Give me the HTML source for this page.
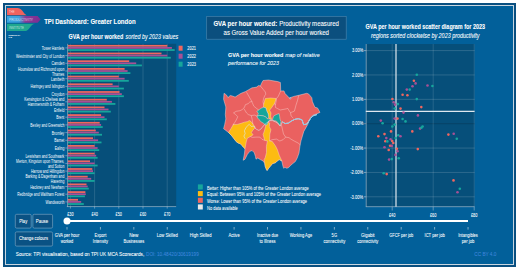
<!DOCTYPE html>
<html><head><meta charset="utf-8"><style>html,body{margin:0;padding:0;width:520px;height:275px;overflow:hidden;background:#fff}svg{display:block}text{font-family:"Liberation Sans",sans-serif}</style></head>
<body><svg width="520" height="275" viewBox="0 0 520 275" fill="#fff">
<rect x="0" y="0" width="520" height="275" fill="#fff"/>
<rect x="3" y="3" width="513" height="264" fill="#0a4f80"/>
<rect x="5.5" y="5.5" width="508" height="259" fill="#02609a" stroke="#c9d6e0" stroke-width="1"/>
<defs><linearGradient id="gp" gradientUnits="userSpaceOnUse" x1="7" x2="40.6" y1="0" y2="0"><stop offset="0" stop-color="#3aa6e0"/><stop offset="0.36" stop-color="#3d9fdc"/><stop offset="0.55" stop-color="#8a3a96"/><stop offset="1" stop-color="#7b2e92"/></linearGradient></defs>
<path d="M7,16 L37.6,16 L40.6,19.4 L37.6,22.8 L7,22.8 Z" fill="url(#gp)"/>
<path d="M7,8 L17.7,8 C20.5,8 22,10.3 23.6,12.4 C25,14.3 26.2,15.2 27.8,15.2 L7,15.2 Z" fill="#f0625e"/>
<path d="M7,23.8 L35.5,23.8 C33,23.8 31.6,25.4 29.8,27.8 C28.3,29.8 27.2,31 25.4,31 L7,31 Z" fill="#1fa88f"/>
<text x="9.10" y="13.10" font-size="4.2" fill-opacity="0.72" textLength="5.60" lengthAdjust="spacingAndGlyphs">THE</text>
<text x="9.10" y="21.10" font-size="4.2" fill-opacity="0.72" textLength="23.90" lengthAdjust="spacingAndGlyphs">PRODUCTIVITY</text>
<text x="9.10" y="29.10" font-size="4.2" fill-opacity="0.72" textLength="14.70" lengthAdjust="spacingAndGlyphs">INSTITUTE</text>
<text x="8.40" y="35.60" font-size="2.0" stroke="#fff" stroke-width="0.040" textLength="12.00" lengthAdjust="spacingAndGlyphs">PRODUCTIVITY</text>
<text x="8.40" y="38.20" font-size="2.0" stroke="#fff" stroke-width="0.040" textLength="3.60" lengthAdjust="spacingAndGlyphs">LAB</text>
<text x="44.20" y="23.80" font-size="7" stroke="#fff" stroke-width="0.084" font-weight="bold" textLength="91.40" lengthAdjust="spacingAndGlyphs">TPI Dashboard: Greater London</text>
<text x="68.50" y="38.80" font-size="6.3" stroke="#fff" stroke-width="0.076" font-weight="bold" textLength="54.90" lengthAdjust="spacingAndGlyphs">GVA per hour worked</text>
<text x="125.50" y="38.80" font-size="6.3" stroke="#fff" stroke-width="0.076" font-style="italic" textLength="52.60" lengthAdjust="spacingAndGlyphs">sorted by 2023 values</text>
<rect x="66.8" y="43.8" width="109.39999999999999" height="163.0" fill="#064f7a"/>
<line x1="70.40" y1="43.8" x2="70.40" y2="206.8" stroke="rgba(255,255,255,0.22)" stroke-width="0.6"/>
<line x1="94.60" y1="43.8" x2="94.60" y2="206.8" stroke="rgba(255,255,255,0.22)" stroke-width="0.6"/>
<line x1="118.80" y1="43.8" x2="118.80" y2="206.8" stroke="rgba(255,255,255,0.22)" stroke-width="0.6"/>
<line x1="143.00" y1="43.8" x2="143.00" y2="206.8" stroke="rgba(255,255,255,0.22)" stroke-width="0.6"/>
<line x1="167.20" y1="43.8" x2="167.20" y2="206.8" stroke="rgba(255,255,255,0.22)" stroke-width="0.6"/>
<rect x="67.9" y="44.90" width="99.40" height="1.78" fill="#f0665f"/>
<rect x="67.9" y="47.02" width="104.00" height="1.78" fill="#a85096"/>
<rect x="67.9" y="49.14" width="106.80" height="1.78" fill="#16a69c"/>
<line x1="65.3" y1="47.90" x2="67.6" y2="47.90" stroke="#b9cad8" stroke-width="0.5"/>
<text x="41.86" y="49.90" font-size="4.45" textLength="22.44" lengthAdjust="spacingAndGlyphs">Tower Hamlets</text>
<rect x="67.9" y="52.60" width="93.60" height="1.78" fill="#f0665f"/>
<rect x="67.9" y="54.72" width="99.40" height="1.78" fill="#a85096"/>
<rect x="67.9" y="56.84" width="102.90" height="1.78" fill="#16a69c"/>
<line x1="65.3" y1="55.60" x2="67.6" y2="55.60" stroke="#b9cad8" stroke-width="0.5"/>
<text x="16.09" y="57.60" font-size="4.45" textLength="48.21" lengthAdjust="spacingAndGlyphs">Westminster and City of London</text>
<rect x="67.9" y="60.30" width="61.30" height="1.78" fill="#f0665f"/>
<rect x="67.9" y="62.42" width="68.30" height="1.78" fill="#a85096"/>
<rect x="67.9" y="64.54" width="74.00" height="1.78" fill="#16a69c"/>
<line x1="65.3" y1="63.30" x2="67.6" y2="63.30" stroke="#b9cad8" stroke-width="0.5"/>
<text x="51.48" y="65.30" font-size="4.45" textLength="12.82" lengthAdjust="spacingAndGlyphs">Camden</text>
<rect x="67.9" y="68.00" width="56.70" height="1.78" fill="#f0665f"/>
<rect x="67.9" y="70.12" width="59.70" height="1.78" fill="#a85096"/>
<rect x="67.9" y="72.24" width="62.50" height="1.78" fill="#16a69c"/>
<line x1="65.3" y1="71.00" x2="67.6" y2="71.00" stroke="#b9cad8" stroke-width="0.5"/>
<text x="18.09" y="70.50" font-size="4.45" textLength="46.21" lengthAdjust="spacingAndGlyphs">Hounslow and Richmond upon</text>
<text x="52.04" y="75.55" font-size="4.45" textLength="12.26" lengthAdjust="spacingAndGlyphs">Thames</text>
<rect x="67.9" y="75.70" width="50.90" height="1.78" fill="#f0665f"/>
<rect x="67.9" y="77.82" width="56.70" height="1.78" fill="#a85096"/>
<rect x="67.9" y="79.94" width="60.90" height="1.78" fill="#16a69c"/>
<line x1="65.3" y1="78.70" x2="67.6" y2="78.70" stroke="#b9cad8" stroke-width="0.5"/>
<text x="51.10" y="80.70" font-size="4.45" textLength="13.20" lengthAdjust="spacingAndGlyphs">Lambeth</text>
<rect x="67.9" y="83.40" width="44.70" height="1.78" fill="#f0665f"/>
<rect x="67.9" y="85.52" width="50.90" height="1.78" fill="#a85096"/>
<rect x="67.9" y="87.64" width="56.00" height="1.78" fill="#16a69c"/>
<line x1="65.3" y1="86.40" x2="67.6" y2="86.40" stroke="#b9cad8" stroke-width="0.5"/>
<text x="30.55" y="88.40" font-size="4.45" textLength="33.75" lengthAdjust="spacingAndGlyphs">Haringey and Islington</text>
<rect x="67.9" y="91.10" width="51.60" height="1.78" fill="#f0665f"/>
<rect x="67.9" y="93.22" width="53.90" height="1.78" fill="#a85096"/>
<rect x="67.9" y="95.34" width="56.00" height="1.78" fill="#16a69c"/>
<line x1="65.3" y1="94.10" x2="67.6" y2="94.10" stroke="#b9cad8" stroke-width="0.5"/>
<text x="51.48" y="96.10" font-size="4.45" textLength="12.82" lengthAdjust="spacingAndGlyphs">Croydon</text>
<rect x="67.9" y="98.80" width="38.90" height="1.78" fill="#f0665f"/>
<rect x="67.9" y="100.92" width="44.00" height="1.78" fill="#a85096"/>
<rect x="67.9" y="103.04" width="47.50" height="1.78" fill="#16a69c"/>
<line x1="65.3" y1="101.80" x2="67.6" y2="101.80" stroke="#b9cad8" stroke-width="0.5"/>
<text x="24.13" y="101.30" font-size="4.45" textLength="40.17" lengthAdjust="spacingAndGlyphs">Kensington &amp; Chelsea and</text>
<text x="27.74" y="106.35" font-size="4.45" textLength="36.56" lengthAdjust="spacingAndGlyphs">Hammersmith &amp; Fulham</text>
<rect x="67.9" y="106.50" width="36.60" height="1.78" fill="#f0665f"/>
<rect x="67.9" y="108.62" width="40.60" height="1.78" fill="#a85096"/>
<rect x="67.9" y="110.74" width="42.90" height="1.78" fill="#16a69c"/>
<line x1="65.3" y1="109.50" x2="67.6" y2="109.50" stroke="#b9cad8" stroke-width="0.5"/>
<text x="53.92" y="111.50" font-size="4.45" textLength="10.38" lengthAdjust="spacingAndGlyphs">Enfield</text>
<rect x="67.9" y="114.20" width="33.20" height="1.78" fill="#f0665f"/>
<rect x="67.9" y="116.32" width="36.60" height="1.78" fill="#a85096"/>
<rect x="67.9" y="118.44" width="38.90" height="1.78" fill="#16a69c"/>
<line x1="65.3" y1="117.20" x2="67.6" y2="117.20" stroke="#b9cad8" stroke-width="0.5"/>
<text x="56.19" y="119.20" font-size="4.45" textLength="8.11" lengthAdjust="spacingAndGlyphs">Brent</text>
<rect x="67.9" y="121.90" width="31.80" height="1.78" fill="#f0665f"/>
<rect x="67.9" y="124.02" width="33.20" height="1.78" fill="#a85096"/>
<rect x="67.9" y="126.14" width="34.80" height="1.78" fill="#16a69c"/>
<line x1="65.3" y1="124.90" x2="67.6" y2="124.90" stroke="#b9cad8" stroke-width="0.5"/>
<text x="30.36" y="126.90" font-size="4.45" textLength="33.94" lengthAdjust="spacingAndGlyphs">Bexley and Greenwich</text>
<rect x="67.9" y="129.60" width="27.90" height="1.78" fill="#f0665f"/>
<rect x="67.9" y="131.72" width="30.90" height="1.78" fill="#a85096"/>
<rect x="67.9" y="133.84" width="34.10" height="1.78" fill="#16a69c"/>
<line x1="65.3" y1="132.60" x2="67.6" y2="132.60" stroke="#b9cad8" stroke-width="0.5"/>
<text x="51.86" y="134.60" font-size="4.45" textLength="12.44" lengthAdjust="spacingAndGlyphs">Bromley</text>
<rect x="67.9" y="137.30" width="25.10" height="1.78" fill="#f0665f"/>
<rect x="67.9" y="139.42" width="30.20" height="1.78" fill="#a85096"/>
<rect x="67.9" y="141.54" width="33.60" height="1.78" fill="#16a69c"/>
<line x1="65.3" y1="140.30" x2="67.6" y2="140.30" stroke="#b9cad8" stroke-width="0.5"/>
<text x="54.30" y="142.30" font-size="4.45" textLength="10.00" lengthAdjust="spacingAndGlyphs">Barnet</text>
<rect x="67.9" y="145.00" width="26.70" height="1.78" fill="#f0665f"/>
<rect x="67.9" y="147.12" width="29.70" height="1.78" fill="#a85096"/>
<rect x="67.9" y="149.24" width="31.30" height="1.78" fill="#16a69c"/>
<line x1="65.3" y1="148.00" x2="67.6" y2="148.00" stroke="#b9cad8" stroke-width="0.5"/>
<text x="54.87" y="150.00" font-size="4.45" textLength="9.43" lengthAdjust="spacingAndGlyphs">Ealing</text>
<rect x="67.9" y="152.70" width="26.70" height="1.78" fill="#f0665f"/>
<rect x="67.9" y="154.82" width="28.30" height="1.78" fill="#a85096"/>
<rect x="67.9" y="156.94" width="29.70" height="1.78" fill="#16a69c"/>
<line x1="65.3" y1="155.70" x2="67.6" y2="155.70" stroke="#b9cad8" stroke-width="0.5"/>
<text x="25.46" y="157.70" font-size="4.45" textLength="38.84" lengthAdjust="spacingAndGlyphs">Lewisham and Southwark</text>
<rect x="67.9" y="160.40" width="22.10" height="1.78" fill="#f0665f"/>
<rect x="67.9" y="162.52" width="26.70" height="1.78" fill="#a85096"/>
<rect x="67.9" y="164.64" width="29.70" height="1.78" fill="#16a69c"/>
<line x1="65.3" y1="163.40" x2="67.6" y2="163.40" stroke="#b9cad8" stroke-width="0.5"/>
<text x="16.09" y="162.90" font-size="4.45" textLength="48.21" lengthAdjust="spacingAndGlyphs">Merton, Kingston upon Thames,</text>
<text x="47.88" y="167.95" font-size="4.45" textLength="16.42" lengthAdjust="spacingAndGlyphs">and Sutton</text>
<rect x="67.9" y="168.10" width="24.40" height="1.78" fill="#f0665f"/>
<rect x="67.9" y="170.22" width="25.10" height="1.78" fill="#a85096"/>
<rect x="67.9" y="172.34" width="26.70" height="1.78" fill="#16a69c"/>
<line x1="65.3" y1="171.10" x2="67.6" y2="171.10" stroke="#b9cad8" stroke-width="0.5"/>
<text x="30.93" y="173.10" font-size="4.45" textLength="33.37" lengthAdjust="spacingAndGlyphs">Harrow and Hillingdon</text>
<rect x="67.9" y="175.80" width="19.80" height="1.78" fill="#f0665f"/>
<rect x="67.9" y="177.92" width="23.30" height="1.78" fill="#a85096"/>
<rect x="67.9" y="180.04" width="26.70" height="1.78" fill="#16a69c"/>
<line x1="65.3" y1="178.80" x2="67.6" y2="178.80" stroke="#b9cad8" stroke-width="0.5"/>
<text x="25.45" y="178.30" font-size="4.45" textLength="38.85" lengthAdjust="spacingAndGlyphs">Barking &amp; Dagenham and</text>
<text x="50.72" y="183.35" font-size="4.45" textLength="13.58" lengthAdjust="spacingAndGlyphs">Havering</text>
<rect x="67.9" y="183.50" width="18.60" height="1.78" fill="#f0665f"/>
<rect x="67.9" y="185.62" width="19.80" height="1.78" fill="#a85096"/>
<rect x="67.9" y="187.74" width="20.90" height="1.78" fill="#16a69c"/>
<line x1="65.3" y1="186.50" x2="67.6" y2="186.50" stroke="#b9cad8" stroke-width="0.5"/>
<text x="30.17" y="188.50" font-size="4.45" textLength="34.13" lengthAdjust="spacingAndGlyphs">Hackney and Newham</text>
<rect x="67.9" y="191.20" width="17.50" height="1.78" fill="#f0665f"/>
<rect x="67.9" y="193.32" width="17.90" height="1.78" fill="#a85096"/>
<rect x="67.9" y="195.44" width="17.00" height="1.78" fill="#16a69c"/>
<line x1="65.3" y1="194.20" x2="67.6" y2="194.20" stroke="#b9cad8" stroke-width="0.5"/>
<text x="17.28" y="196.20" font-size="4.45" textLength="47.02" lengthAdjust="spacingAndGlyphs">Redbridge and Waltham Forest</text>
<rect x="67.9" y="198.90" width="10.10" height="1.78" fill="#f0665f"/>
<rect x="67.9" y="201.02" width="13.30" height="1.78" fill="#a85096"/>
<rect x="67.9" y="203.14" width="15.90" height="1.78" fill="#16a69c"/>
<line x1="65.3" y1="201.90" x2="67.6" y2="201.90" stroke="#b9cad8" stroke-width="0.5"/>
<text x="45.57" y="203.90" font-size="4.45" textLength="18.73" lengthAdjust="spacingAndGlyphs">Wandsworth</text>
<line x1="67.6" y1="43.8" x2="67.6" y2="206.8" stroke="#b9cad8" stroke-width="0.6"/>
<line x1="66.8" y1="206.6" x2="176.2" y2="206.6" stroke="#b9cad8" stroke-width="0.6"/>
<line x1="70.40" y1="206.6" x2="70.40" y2="208.6" stroke="#b9cad8" stroke-width="0.5"/>
<text x="67.20" y="215.50" font-size="4.8" stroke="#fff" stroke-width="0.058" textLength="6.40" lengthAdjust="spacingAndGlyphs">£30</text>
<line x1="94.60" y1="206.6" x2="94.60" y2="208.6" stroke="#b9cad8" stroke-width="0.5"/>
<text x="91.40" y="215.50" font-size="4.8" stroke="#fff" stroke-width="0.058" textLength="6.40" lengthAdjust="spacingAndGlyphs">£40</text>
<line x1="118.80" y1="206.6" x2="118.80" y2="208.6" stroke="#b9cad8" stroke-width="0.5"/>
<text x="115.60" y="215.50" font-size="4.8" stroke="#fff" stroke-width="0.058" textLength="6.40" lengthAdjust="spacingAndGlyphs">£50</text>
<line x1="143.00" y1="206.6" x2="143.00" y2="208.6" stroke="#b9cad8" stroke-width="0.5"/>
<text x="139.80" y="215.50" font-size="4.8" stroke="#fff" stroke-width="0.058" textLength="6.40" lengthAdjust="spacingAndGlyphs">£60</text>
<line x1="167.20" y1="206.6" x2="167.20" y2="208.6" stroke="#b9cad8" stroke-width="0.5"/>
<text x="164.00" y="215.50" font-size="4.8" stroke="#fff" stroke-width="0.058" textLength="6.40" lengthAdjust="spacingAndGlyphs">£70</text>
<rect x="178.6" y="45.7" width="4" height="5" fill="#f0665f"/>
<text x="187.30" y="49.90" font-size="4.8" stroke="#fff" stroke-width="0.058" textLength="8.70" lengthAdjust="spacingAndGlyphs">2021</text>
<rect x="178.6" y="53.7" width="4" height="5" fill="#a85096"/>
<text x="187.30" y="57.90" font-size="4.8" stroke="#fff" stroke-width="0.058" textLength="8.70" lengthAdjust="spacingAndGlyphs">2022</text>
<rect x="178.6" y="61.7" width="4" height="5" fill="#16a69c"/>
<text x="187.30" y="65.90" font-size="4.8" stroke="#fff" stroke-width="0.058" textLength="8.70" lengthAdjust="spacingAndGlyphs">2023</text>
<rect x="206.7" y="16.6" width="139.5" height="22.6" fill="#0b4f7e" stroke="#4a83ab" stroke-width="0.65"/>
<text x="213.40" y="25.90" font-size="6.5" stroke="#fff" stroke-width="0.078" font-weight="bold" textLength="63.80" lengthAdjust="spacingAndGlyphs">GVA per hour worked:</text>
<text x="279.20" y="25.90" font-size="6.5" stroke="#fff" stroke-width="0.078" textLength="59.80" lengthAdjust="spacingAndGlyphs">Productivity measured</text>
<text x="223.50" y="34.70" font-size="6.5" stroke="#fff" stroke-width="0.078" textLength="105.50" lengthAdjust="spacingAndGlyphs">as Gross Value Added per hour worked</text>
<text x="228.00" y="57.00" font-size="6.2" stroke="#fff" stroke-width="0.074" font-weight="bold" textLength="55.40" lengthAdjust="spacingAndGlyphs">GVA per hour worked</text>
<text x="285.20" y="57.00" font-size="6.2" stroke="#fff" stroke-width="0.074" font-style="italic" textLength="34.40" lengthAdjust="spacingAndGlyphs">map of relative</text>
<text x="228.00" y="65.00" font-size="6.2" stroke="#fff" stroke-width="0.074" font-style="italic" textLength="51.00" lengthAdjust="spacingAndGlyphs">performance for 2023</text>
<polygon points="224.0,93.3 226.4,94.9 228.0,97.6 230.2,95.5 232.4,96.0 235.1,97.1 238.4,94.9 241.1,93.3 245.4,91.6 248.2,90.0 252.0,87.8 253.8,87.6 256.5,87.1 258.7,85.5 260.4,86.0 261.5,83.3 263.1,80.5 268.5,80.0 277.8,81.6 280.4,82.5 280.7,90.9 284.0,90.9 285.1,93.6 289.4,98.0 293.8,96.4 298.7,95.3 306.7,93.3 308.6,93.9 311.8,97.7 312.4,101.6 314.9,107.3 317.5,107.9 320.0,112.4 315.6,114.3 313.1,115.2 310.6,117.1 307.6,124.7 303.8,131.4 301.0,140.8 300.0,145.6 299.0,153.0 297.2,158.0 295.3,161.6 292.5,163.8 290.6,165.4 288.6,167.6 286.8,168.3 284.9,167.3 283.7,168.3 283.0,166.4 281.8,160.9 279.2,159.6 277.3,160.9 275.4,162.8 272.8,163.5 270.9,165.4 268.4,168.6 267.1,170.5 266.5,169.7 265.3,166.7 264.7,163.3 263.0,160.9 260.7,159.8 257.8,158.0 256.0,159.2 255.4,156.3 254.3,152.8 252.0,150.5 249.6,151.6 247.3,154.5 245.0,159.2 243.2,160.3 244.4,154.0 245.0,148.7 243.2,147.0 240.9,144.1 238.0,142.9 236.1,141.5 233.5,138.0 231.3,135.3 228.5,132.5 225.8,130.4 223.6,128.7 224.7,124.4 225.8,118.9 225.3,114.5 225.8,108.0 225.8,106.9 224.7,103.1 223.6,99.3" fill="#ea6160" stroke="#fbe0dc" stroke-width="0.45" stroke-linejoin="round"/>
<polygon points="232.9,124.4 237.3,124.4 241.1,123.3 244.4,122.2 247.6,121.6 249.3,120.5 251.0,121.5 253.1,124.3 255.3,127.3 252.7,130.4 251.3,132.6 253.1,134.8 250.5,136.5 247.3,138.2 246.2,142.0 245.0,148.7 243.2,147.0 240.9,144.1 238.0,142.9 236.1,141.5 233.5,138.0 231.3,135.3 228.5,132.5 231.1,128.4 233.3,124.6" fill="#fdbb12" stroke="#fbe0dc" stroke-width="0.4" stroke-linejoin="round"/>
<polygon points="266.6,122.2 269.7,122.9 269.3,126.5 270.9,129.8 269.8,134.2 269.6,141.0 272.3,141.5 275.5,146.0 277.4,149.8 279.2,155.2 281.8,160.9 279.2,159.6 277.3,160.9 275.4,162.8 272.8,163.5 270.9,165.4 268.4,168.6 267.1,170.5 266.5,169.7 265.3,166.7 264.7,163.3 264.2,159.5 265.2,157.7 266.5,152.6 266.4,146.4 267.4,140.9 264.7,140.4 263.1,134.4 264.4,130.9 265.5,126.5" fill="#fdbb12" stroke="#fbe0dc" stroke-width="0.4" stroke-linejoin="round"/>
<polygon points="265.3,98.5 270.7,98.0 276.2,98.5 274.5,103.4 271.5,107.8 269.6,110.2 271.0,113.0 270.6,116.3 271.5,119.2 270.1,119.2 268.7,117.3 268.2,113.9 266.8,111.1 265.8,107.8 263.5,107.3 263.6,104.5" fill="#fdbb12" stroke="#fbe0dc" stroke-width="0.4" stroke-linejoin="round"/>
<polygon points="256.8,111.1 257.8,110.6 261.1,108.3 263.5,107.3 265.8,107.8 266.8,111.1 268.2,113.9 268.7,117.3 267.3,118.7 265.4,116.8 263.0,115.8 259.7,115.4 257.3,116.3 258.3,113.5" fill="#16a69c" stroke="#fbe0dc" stroke-width="0.4" stroke-linejoin="round"/>
<polygon points="256.8,116.3 259.7,115.4 263.0,115.8 265.4,116.8 267.3,118.7 270.1,119.2 271.5,119.6 269.2,120.6 268.2,121.5 267.3,124.8 265.4,124.8 263.0,122.9 260.6,121.5 259.2,119.6 257.8,118.2" fill="#16a69c" stroke="#fbe0dc" stroke-width="0.4" stroke-linejoin="round"/>
<polygon points="272.5,120.1 272.9,118.2 273.9,115.8 276.7,114.4 279.1,113.5 279.6,116.3 280.0,119.2 281.0,121.5 280.5,123.9 279.6,125.8 278.1,123.0 276.3,121.0 273.9,120.6" fill="#16a69c" stroke="#fbe0dc" stroke-width="0.4" stroke-linejoin="round"/>
<polyline points="246.5,92.2 248.7,96.0 250.9,99.8 252.0,101.5" fill="none" stroke="#fbe0dc" stroke-width="0.4" stroke-linejoin="round"/>
<polyline points="252.0,101.5 249.8,102.0 248.2,103.6 245.4,104.7 244.4,107.4 243.8,108.0 242.2,109.6 240.0,110.7 236.2,111.3 233.5,112.9 235.6,114.5 237.8,116.7 236.2,120.0 234.0,123.8 232.9,124.4" fill="none" stroke="#fbe0dc" stroke-width="0.4" stroke-linejoin="round"/>
<polyline points="243.8,108.5 246.5,112.9 248.2,114.5 251.3,115.6 254.5,115.1 257.3,116.2" fill="none" stroke="#fbe0dc" stroke-width="0.4" stroke-linejoin="round"/>
<polyline points="252.0,101.5 252.2,102.4 253.8,106.2 256.5,108.4 258.7,110.0" fill="none" stroke="#fbe0dc" stroke-width="0.4" stroke-linejoin="round"/>
<polyline points="260.4,86.0 263.1,89.3 265.3,92.0 265.8,94.2 264.7,95.8 263.6,98.5 263.0,101.8 263.6,104.5" fill="none" stroke="#fbe0dc" stroke-width="0.4" stroke-linejoin="round"/>
<polyline points="280.7,90.9 278.0,96.9 276.2,98.5 276.4,100.2 275.3,105.1 275.5,107.5 280.2,110.0 286.2,108.9 287.8,108.4 289.4,111.1 290.5,112.7 291.1,116.0 293.3,118.2" fill="none" stroke="#fbe0dc" stroke-width="0.4" stroke-linejoin="round"/>
<polyline points="298.7,95.3 297.6,100.2 296.0,105.1 294.4,111.1 290.5,112.7" fill="none" stroke="#fbe0dc" stroke-width="0.4" stroke-linejoin="round"/>
<polyline points="275.3,105.1 274.5,103.4" fill="none" stroke="#fbe0dc" stroke-width="0.4" stroke-linejoin="round"/>
<polyline points="281.5,125.3 282.4,129.1 283.5,134.0 285.7,137.1" fill="none" stroke="#fbe0dc" stroke-width="0.4" stroke-linejoin="round"/>
<polyline points="269.6,141.0 272.0,139.7 276.5,139.1 279.8,141.0 283.1,139.7 285.7,137.1 289.0,137.7 290.9,139.1 294.2,141.0 298.1,143.0 300.5,145.0" fill="none" stroke="#fbe0dc" stroke-width="0.4" stroke-linejoin="round"/>
<polyline points="250.5,136.5 252.2,137.4 256.0,137.1 259.8,137.1 262.0,139.3 264.7,140.4" fill="none" stroke="#fbe0dc" stroke-width="0.4" stroke-linejoin="round"/>
<polyline points="251.3,115.6 252.2,119.5 252.7,123.0 253.1,124.3" fill="none" stroke="#fbe0dc" stroke-width="0.4" stroke-linejoin="round"/>
<polyline points="245.2,138.7 243.9,136.1 245.2,133.5 244.4,130.8 246.1,127.3 249.2,124.3 251.3,126.5 254.0,126.0 254.8,127.8 256.1,129.1 258.8,130.4 260.9,129.1 262.3,127.3 264.4,124.7 266.6,123.2 268.2,121.5 270.5,120.6 272.5,120.6 275.8,122.0 279.1,124.4 280.5,126.1 282.4,121.8 285.1,123.6 288.4,123.1 291.6,120.9 294.9,119.3 298.2,118.7 302.0,119.8 303.6,124.7 306.8,124.1 310.6,118.4 313.1,115.8 317.0,114.5" fill="none" stroke="#d9ebf4" stroke-width="0.6" stroke-linejoin="round"/>
<polyline points="282.4,121.8 285.1,123.6 288.4,123.1 291.6,120.9 294.9,119.3 298.2,118.7 302.0,119.8 303.6,124.7 306.8,124.1 310.6,118.4 313.1,115.8 317.0,114.5" fill="none" stroke="#d9ebf4" stroke-width="1.0" stroke-linejoin="round"/>
<polyline points="282.4,121.8 285.1,123.6 288.4,123.1 291.6,120.9 294.9,119.3 298.2,118.7 302.0,119.8 303.6,124.7 306.8,124.1 310.6,118.4 313.1,115.8 317.0,114.5" fill="none" stroke="#3d9fd0" stroke-width="0.45" stroke-linejoin="round"/>
<circle cx="290.3" cy="98.3" r="0.75" fill="#3a9ad0" stroke="#fbe0dc" stroke-width="0.4"/>
<rect x="197.9" y="184.40" width="4.9" height="5.1" fill="#16a69c"/>
<text x="207.00" y="189.60" font-size="4.9" stroke="#fff" stroke-width="0.049" textLength="101.70" lengthAdjust="spacingAndGlyphs">Better: Higher than 105% of the Greater London average</text>
<rect x="197.9" y="191.07" width="4.9" height="5.1" fill="#fdbb12"/>
<text x="207.00" y="196.27" font-size="4.9" stroke="#fff" stroke-width="0.049" textLength="114.00" lengthAdjust="spacingAndGlyphs">Equal: Between 95% and 105% of the Greater London average</text>
<rect x="197.9" y="197.74" width="4.9" height="5.1" fill="#f0665f"/>
<text x="207.00" y="202.94" font-size="4.9" stroke="#fff" stroke-width="0.049" textLength="100.00" lengthAdjust="spacingAndGlyphs">Worse: Lower than 95% of the Greater London average</text>
<rect x="197.9" y="204.41" width="4.9" height="5.1" fill="#e9e9e9"/>
<text x="207.00" y="209.61" font-size="4.9" stroke="#fff" stroke-width="0.049" textLength="30.80" lengthAdjust="spacingAndGlyphs">No data available</text>
<rect x="365.8" y="44.0" width="108.80000000000001" height="162.8" fill="#064f7a"/>
<line x1="364" y1="50.59" x2="474.6" y2="50.59" stroke="rgba(255,255,255,0.22)" stroke-width="0.7"/>
<line x1="364" y1="50.59" x2="366.2" y2="50.59" stroke="#b9cad8" stroke-width="0.5"/>
<text x="352.00" y="52.34" font-size="4.8" stroke="#fff" stroke-width="0.058" textLength="11.20" lengthAdjust="spacingAndGlyphs">3.00%</text>
<line x1="364" y1="74.96" x2="474.6" y2="74.96" stroke="rgba(255,255,255,0.22)" stroke-width="0.7"/>
<line x1="364" y1="74.96" x2="366.2" y2="74.96" stroke="#b9cad8" stroke-width="0.5"/>
<text x="352.00" y="76.71" font-size="4.8" stroke="#fff" stroke-width="0.058" textLength="11.20" lengthAdjust="spacingAndGlyphs">2.00%</text>
<line x1="364" y1="99.33" x2="474.6" y2="99.33" stroke="rgba(255,255,255,0.22)" stroke-width="0.7"/>
<line x1="364" y1="99.33" x2="366.2" y2="99.33" stroke="#b9cad8" stroke-width="0.5"/>
<text x="352.00" y="101.08" font-size="4.8" stroke="#fff" stroke-width="0.058" textLength="11.20" lengthAdjust="spacingAndGlyphs">1.00%</text>
<line x1="364" y1="123.70" x2="474.6" y2="123.70" stroke="#073e5e" stroke-width="0.7"/>
<line x1="364" y1="123.70" x2="366.2" y2="123.70" stroke="#b9cad8" stroke-width="0.5"/>
<text x="352.00" y="125.45" font-size="4.8" stroke="#fff" stroke-width="0.058" textLength="11.20" lengthAdjust="spacingAndGlyphs">0.00%</text>
<line x1="364" y1="148.07" x2="474.6" y2="148.07" stroke="rgba(255,255,255,0.22)" stroke-width="0.7"/>
<line x1="364" y1="148.07" x2="366.2" y2="148.07" stroke="#b9cad8" stroke-width="0.5"/>
<text x="350.20" y="149.82" font-size="4.8" stroke="#fff" stroke-width="0.058" textLength="13.00" lengthAdjust="spacingAndGlyphs">-1.00%</text>
<line x1="364" y1="172.44" x2="474.6" y2="172.44" stroke="rgba(255,255,255,0.22)" stroke-width="0.7"/>
<line x1="364" y1="172.44" x2="366.2" y2="172.44" stroke="#b9cad8" stroke-width="0.5"/>
<text x="350.20" y="174.19" font-size="4.8" stroke="#fff" stroke-width="0.058" textLength="13.00" lengthAdjust="spacingAndGlyphs">-2.00%</text>
<line x1="364" y1="196.81" x2="474.6" y2="196.81" stroke="rgba(255,255,255,0.22)" stroke-width="0.7"/>
<line x1="364" y1="196.81" x2="366.2" y2="196.81" stroke="#b9cad8" stroke-width="0.5"/>
<text x="350.20" y="198.56" font-size="4.8" stroke="#fff" stroke-width="0.058" textLength="13.00" lengthAdjust="spacingAndGlyphs">-3.00%</text>
<line x1="392.20" y1="44.0" x2="392.20" y2="206.8" stroke="rgba(255,255,255,0.22)" stroke-width="0.6"/>
<line x1="392.20" y1="206.8" x2="392.20" y2="210.5" stroke="#b9cad8" stroke-width="0.5"/>
<text x="388.90" y="216.60" font-size="4.8" stroke="#fff" stroke-width="0.058" textLength="6.60" lengthAdjust="spacingAndGlyphs">£40</text>
<line x1="433.20" y1="44.0" x2="433.20" y2="206.8" stroke="rgba(255,255,255,0.22)" stroke-width="0.6"/>
<line x1="433.20" y1="206.8" x2="433.20" y2="210.5" stroke="#b9cad8" stroke-width="0.5"/>
<text x="429.90" y="216.60" font-size="4.8" stroke="#fff" stroke-width="0.058" textLength="6.60" lengthAdjust="spacingAndGlyphs">£60</text>
<line x1="474.20" y1="44.0" x2="474.20" y2="206.8" stroke="rgba(255,255,255,0.22)" stroke-width="0.6"/>
<line x1="474.20" y1="206.8" x2="474.20" y2="210.5" stroke="#b9cad8" stroke-width="0.5"/>
<text x="470.90" y="216.60" font-size="4.8" stroke="#fff" stroke-width="0.058" textLength="6.60" lengthAdjust="spacingAndGlyphs">£80</text>
<line x1="366.2" y1="44.0" x2="366.2" y2="206.8" stroke="#b9cad8" stroke-width="0.6"/>
<line x1="365.8" y1="206.7" x2="474.6" y2="206.7" stroke="#b9cad8" stroke-width="0.6"/>
<line x1="396" y1="44.0" x2="396" y2="206.8" stroke="#dfe8ef" stroke-width="1.2"/>
<line x1="365.8" y1="111.3" x2="474.6" y2="111.3" stroke="#dfe8ef" stroke-width="1.2"/>
<circle cx="416.8" cy="74.8" r="1.3" fill="#16a69c"/>
<circle cx="413.9" cy="80.7" r="1.3" fill="#f0665f"/>
<circle cx="415.6" cy="83.4" r="1.3" fill="#a85096"/>
<circle cx="412.5" cy="86.2" r="1.3" fill="#a85096"/>
<circle cx="409.7" cy="89.6" r="1.3" fill="#16a69c"/>
<circle cx="406.8" cy="89.6" r="1.3" fill="#a85096"/>
<circle cx="402.6" cy="94.8" r="1.3" fill="#f0665f"/>
<circle cx="407.4" cy="95.2" r="1.3" fill="#f0665f"/>
<circle cx="416.8" cy="99.1" r="1.3" fill="#16a69c"/>
<circle cx="392.4" cy="99.0" r="1.3" fill="#f0665f"/>
<circle cx="393.7" cy="102.3" r="1.3" fill="#a85096"/>
<circle cx="395.0" cy="104.6" r="1.3" fill="#a85096"/>
<circle cx="397.9" cy="104.1" r="1.3" fill="#16a69c"/>
<circle cx="394.6" cy="108.5" r="1.3" fill="#16a69c"/>
<circle cx="400.5" cy="108.6" r="1.3" fill="#f0665f"/>
<circle cx="421.3" cy="107.1" r="1.3" fill="#f0665f"/>
<circle cx="403.5" cy="112.6" r="1.3" fill="#a85096"/>
<circle cx="427.5" cy="85.5" r="1.3" fill="#a85096"/>
<circle cx="432.4" cy="86.0" r="1.3" fill="#16a69c"/>
<circle cx="417.9" cy="115.4" r="1.3" fill="#a85096"/>
<circle cx="394.6" cy="118.6" r="1.3" fill="#a85096"/>
<circle cx="397.5" cy="118.6" r="1.3" fill="#f0665f"/>
<circle cx="402.6" cy="119.0" r="1.3" fill="#16a69c"/>
<circle cx="405.5" cy="121.4" r="1.3" fill="#16a69c"/>
<circle cx="380.8" cy="120.6" r="1.3" fill="#a85096"/>
<circle cx="382.6" cy="123.2" r="1.3" fill="#16a69c"/>
<circle cx="392.3" cy="126.5" r="1.3" fill="#16a69c"/>
<circle cx="394.6" cy="124.6" r="1.3" fill="#16a69c"/>
<circle cx="420.1" cy="128.6" r="1.3" fill="#a85096"/>
<circle cx="422.6" cy="126.5" r="1.3" fill="#16a69c"/>
<circle cx="421.4" cy="127.7" r="1.3" fill="#16a69c"/>
<circle cx="412.3" cy="131.4" r="1.3" fill="#f0665f"/>
<circle cx="391.0" cy="131.4" r="1.3" fill="#f0665f"/>
<circle cx="378.3" cy="136.3" r="1.3" fill="#f0665f"/>
<circle cx="384.5" cy="134.1" r="1.3" fill="#f0665f"/>
<circle cx="398.3" cy="135.2" r="1.3" fill="#16a69c"/>
<circle cx="400.5" cy="136.3" r="1.3" fill="#a85096"/>
<circle cx="386.3" cy="138.1" r="1.3" fill="#a85096"/>
<circle cx="395.7" cy="138.1" r="1.3" fill="#16a69c"/>
<circle cx="390.6" cy="139.2" r="1.3" fill="#a85096"/>
<circle cx="385.3" cy="141.2" r="1.3" fill="#f0665f"/>
<circle cx="387.4" cy="141.4" r="1.3" fill="#16a69c"/>
<circle cx="392.2" cy="141.0" r="1.3" fill="#f0665f"/>
<circle cx="393.3" cy="143.0" r="1.3" fill="#f0665f"/>
<circle cx="384.5" cy="147.3" r="1.3" fill="#a85096"/>
<circle cx="390.1" cy="145.8" r="1.3" fill="#f0665f"/>
<circle cx="391.8" cy="145.9" r="1.3" fill="#a85096"/>
<circle cx="388.7" cy="150.0" r="1.3" fill="#f0665f"/>
<circle cx="396.9" cy="148.7" r="1.3" fill="#f0665f"/>
<circle cx="397.6" cy="151.3" r="1.3" fill="#a85096"/>
<circle cx="417.8" cy="149.1" r="1.3" fill="#f0665f"/>
<circle cx="395.5" cy="154.9" r="1.3" fill="#a85096"/>
<circle cx="389.1" cy="159.6" r="1.3" fill="#a85096"/>
<circle cx="391.8" cy="159.1" r="1.3" fill="#16a69c"/>
<circle cx="398.7" cy="158.2" r="1.3" fill="#16a69c"/>
<circle cx="383.7" cy="173.3" r="1.3" fill="#16a69c"/>
<circle cx="386.7" cy="174.1" r="1.3" fill="#f0665f"/>
<circle cx="448.4" cy="134.6" r="1.3" fill="#f0665f"/>
<circle cx="453.7" cy="133.8" r="1.3" fill="#a85096"/>
<circle cx="456.8" cy="138.7" r="1.3" fill="#16a69c"/>
<circle cx="453.5" cy="180.4" r="1.3" fill="#f0665f"/>
<circle cx="459.8" cy="188.8" r="1.3" fill="#16a69c"/>
<circle cx="457.5" cy="192.3" r="1.3" fill="#a85096"/>
<text x="365.50" y="29.30" font-size="6.5" stroke="#fff" stroke-width="0.078" font-weight="bold" textLength="119.50" lengthAdjust="spacingAndGlyphs">GVA per hour worked scatter diagram for 2023</text>
<text x="371.00" y="37.50" font-size="6.5" stroke="#fff" stroke-width="0.078" font-style="italic" textLength="108.50" lengthAdjust="spacingAndGlyphs">regions sorted clockwise by 2023 productivity</text>
<line x1="67" y1="221" x2="468" y2="221" stroke="#fff" stroke-width="2.1"/>
<circle cx="67" cy="221" r="3.5" fill="#fff"/>
<line x1="67.00" y1="227" x2="67.00" y2="229.6" stroke="#d5e0e8" stroke-width="0.6"/>
<text x="54.75" y="236.50" font-size="4.7" stroke="#fff" stroke-width="0.056" textLength="24.50" lengthAdjust="spacingAndGlyphs">GVA per hour</text>
<text x="60.75" y="242.70" font-size="4.7" stroke="#fff" stroke-width="0.056" textLength="12.50" lengthAdjust="spacingAndGlyphs">worked</text>
<line x1="100.42" y1="227" x2="100.42" y2="229.6" stroke="#d5e0e8" stroke-width="0.6"/>
<text x="94.55" y="236.50" font-size="4.7" stroke="#fff" stroke-width="0.056" textLength="11.75" lengthAdjust="spacingAndGlyphs">Export</text>
<text x="92.80" y="242.70" font-size="4.7" stroke="#fff" stroke-width="0.056" textLength="15.25" lengthAdjust="spacingAndGlyphs">Intensity</text>
<line x1="133.84" y1="227" x2="133.84" y2="229.6" stroke="#d5e0e8" stroke-width="0.6"/>
<text x="129.22" y="236.50" font-size="4.7" stroke="#fff" stroke-width="0.056" textLength="9.25" lengthAdjust="spacingAndGlyphs">New</text>
<text x="123.47" y="242.70" font-size="4.7" stroke="#fff" stroke-width="0.056" textLength="20.75" lengthAdjust="spacingAndGlyphs">Businesses</text>
<line x1="167.26" y1="227" x2="167.26" y2="229.6" stroke="#d5e0e8" stroke-width="0.6"/>
<text x="156.76" y="236.50" font-size="4.7" stroke="#fff" stroke-width="0.056" textLength="21.00" lengthAdjust="spacingAndGlyphs">Low Skilled</text>
<line x1="200.68" y1="227" x2="200.68" y2="229.6" stroke="#d5e0e8" stroke-width="0.6"/>
<text x="189.81" y="236.50" font-size="4.7" stroke="#fff" stroke-width="0.056" textLength="21.75" lengthAdjust="spacingAndGlyphs">High Skilled</text>
<line x1="234.10" y1="227" x2="234.10" y2="229.6" stroke="#d5e0e8" stroke-width="0.6"/>
<text x="228.48" y="236.50" font-size="4.7" stroke="#fff" stroke-width="0.056" textLength="11.25" lengthAdjust="spacingAndGlyphs">Active</text>
<line x1="267.52" y1="227" x2="267.52" y2="229.6" stroke="#d5e0e8" stroke-width="0.6"/>
<text x="256.89" y="236.50" font-size="4.7" stroke="#fff" stroke-width="0.056" textLength="21.25" lengthAdjust="spacingAndGlyphs">Inactive due</text>
<text x="259.39" y="242.70" font-size="4.7" stroke="#fff" stroke-width="0.056" textLength="16.25" lengthAdjust="spacingAndGlyphs">to Illness</text>
<line x1="300.94" y1="227" x2="300.94" y2="229.6" stroke="#d5e0e8" stroke-width="0.6"/>
<text x="289.69" y="236.50" font-size="4.7" stroke="#fff" stroke-width="0.056" textLength="22.50" lengthAdjust="spacingAndGlyphs">Working Age</text>
<line x1="334.36" y1="227" x2="334.36" y2="229.6" stroke="#d5e0e8" stroke-width="0.6"/>
<text x="331.61" y="236.50" font-size="4.7" stroke="#fff" stroke-width="0.056" textLength="5.50" lengthAdjust="spacingAndGlyphs">5G</text>
<text x="323.46" y="242.70" font-size="4.7" stroke="#fff" stroke-width="0.056" textLength="21.80" lengthAdjust="spacingAndGlyphs">connectivity</text>
<line x1="367.78" y1="227" x2="367.78" y2="229.6" stroke="#d5e0e8" stroke-width="0.6"/>
<text x="361.03" y="236.50" font-size="4.7" stroke="#fff" stroke-width="0.056" textLength="13.50" lengthAdjust="spacingAndGlyphs">Gigabit</text>
<text x="357.18" y="242.70" font-size="4.7" stroke="#fff" stroke-width="0.056" textLength="21.20" lengthAdjust="spacingAndGlyphs">connectivity</text>
<line x1="401.20" y1="227" x2="401.20" y2="229.6" stroke="#d5e0e8" stroke-width="0.6"/>
<text x="389.25" y="236.50" font-size="4.7" stroke="#fff" stroke-width="0.056" textLength="23.90" lengthAdjust="spacingAndGlyphs">GFCF per job</text>
<line x1="434.62" y1="227" x2="434.62" y2="229.6" stroke="#d5e0e8" stroke-width="0.6"/>
<text x="424.52" y="236.50" font-size="4.7" stroke="#fff" stroke-width="0.056" textLength="20.20" lengthAdjust="spacingAndGlyphs">ICT per job</text>
<line x1="468.04" y1="227" x2="468.04" y2="229.6" stroke="#d5e0e8" stroke-width="0.6"/>
<text x="458.24" y="236.50" font-size="4.7" stroke="#fff" stroke-width="0.056" textLength="19.60" lengthAdjust="spacingAndGlyphs">Intangibles</text>
<text x="461.74" y="242.70" font-size="4.7" stroke="#fff" stroke-width="0.056" textLength="12.60" lengthAdjust="spacingAndGlyphs">per job</text>
<rect x="15.3" y="214.3" width="15.90" height="13.80" rx="1.4" fill="#0a5284" stroke="#86abc6" stroke-width="0.6"/>
<text x="19.20" y="222.80" font-size="5.6" stroke="#fff" stroke-width="0.067" textLength="8.00" lengthAdjust="spacingAndGlyphs">Play</text>
<rect x="32.9" y="214.3" width="19.70" height="13.80" rx="1.4" fill="#0a5284" stroke="#86abc6" stroke-width="0.6"/>
<text x="35.80" y="222.80" font-size="5.6" stroke="#fff" stroke-width="0.067" textLength="12.40" lengthAdjust="spacingAndGlyphs">Pause</text>
<rect x="15.3" y="231.9" width="37.30" height="14.20" rx="1.4" fill="#0a5284" stroke="#86abc6" stroke-width="0.6"/>
<text x="18.90" y="240.30" font-size="5.6" stroke="#fff" stroke-width="0.067" textLength="29.10" lengthAdjust="spacingAndGlyphs">Change colours</text>
<text x="15.80" y="255.70" font-size="5.5" stroke="#fff" stroke-width="0.066" textLength="128.40" lengthAdjust="spacingAndGlyphs">Source: TPI visualisation, based on TPI UK MCA Scorecards,</text>
<text x="146.00" y="255.70" font-size="5.5" stroke="#3f86dc" stroke-width="0.066" fill="#3f86dc" textLength="52.80" lengthAdjust="spacingAndGlyphs">DOI: 10.48420/30619199</text>
<text x="474.30" y="256.30" font-size="5.5" stroke="#3f86dc" stroke-width="0.066" fill="#3f86dc" textLength="22.10" lengthAdjust="spacingAndGlyphs">CC BY 4.0</text>
</svg></body></html>
